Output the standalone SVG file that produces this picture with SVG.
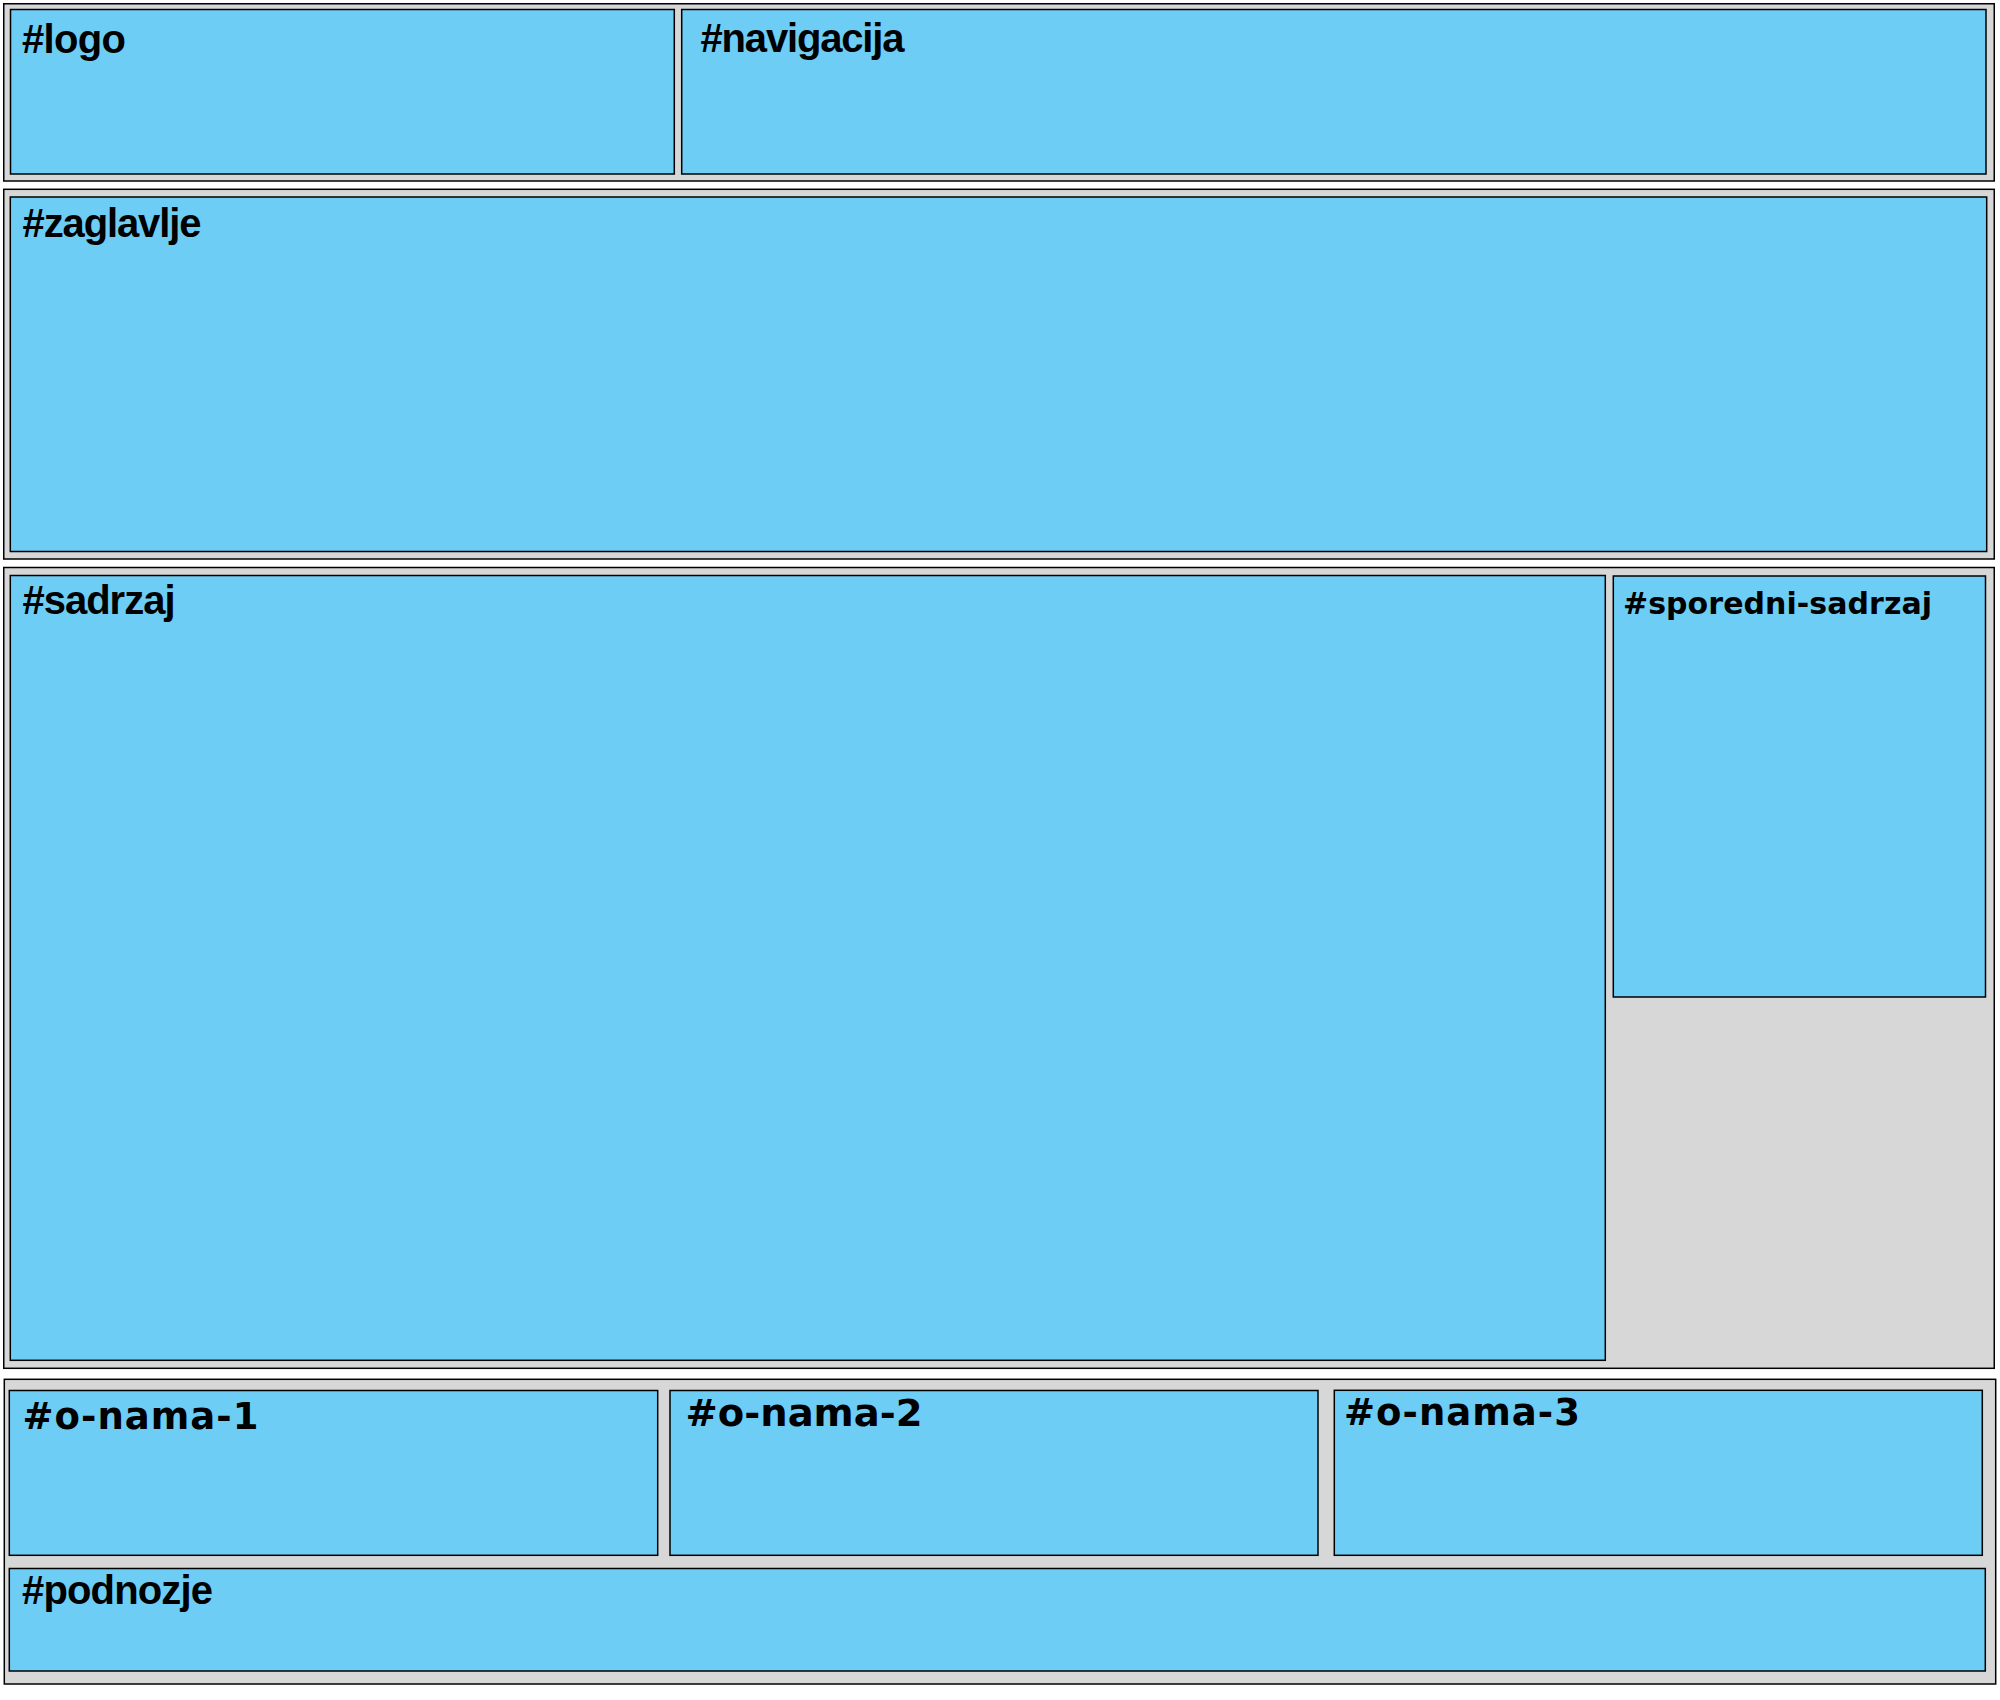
<svg xmlns="http://www.w3.org/2000/svg" width="2000" height="1700" viewBox="0 0 2000 1700">
<style>
.sec{fill:#d7d7d7;stroke:#000;stroke-width:1.5}
.box{fill:#6dcdf5;stroke:#000;stroke-width:1.5}
.a{font-family:"Liberation Sans",Arial,sans-serif;font-weight:bold;font-size:40px;fill:#000}
.d{font-family:"DejaVu Sans",Verdana,sans-serif;font-weight:bold;fill:#000}
.c{font-family:"DejaVu Sans Condensed","DejaVu Sans",sans-serif;font-stretch:condensed;font-weight:bold;fill:#000}
</style>
<rect width="2000" height="1700" fill="#fff"/>
<g id="sekcija-1">
<rect class="sec" x="3.75" y="3.75" width="1990.5" height="177.25"/>
</g>
<g id="logo">
<rect class="box" x="10.5" y="9.5" width="663.8" height="164.5"/>
<text class="a" x="22" y="53" textLength="104" lengthAdjust="spacing">#logo</text>
</g>
<g id="navigacija">
<rect class="box" x="681.7" y="9.5" width="1304.3" height="164.5"/>
<text class="a" x="700.5" y="52" textLength="204" lengthAdjust="spacing">#navigacija</text>
</g>
<g id="sekcija-2">
<rect class="sec" x="3.75" y="189.3" width="1990.5" height="369.7"/>
</g>
<g id="zaglavlje">
<rect class="box" x="10.3" y="197" width="1976.4" height="354.5"/>
<text class="a" x="22.5" y="237" textLength="179" lengthAdjust="spacing">#zaglavlje</text>
</g>
<g id="sekcija-3">
<rect class="sec" x="3.75" y="567.5" width="1990.5" height="800.8"/>
</g>
<g id="sadrzaj">
<rect class="box" x="10.3" y="575.5" width="1595" height="784.8"/>
<text class="a" x="22.5" y="614" textLength="153" lengthAdjust="spacing">#sadrzaj</text>
</g>
<g id="sporedni-sadrzaj">
<rect class="box" x="1613.3" y="576" width="372.2" height="421"/>
<text class="d" x="1623" y="614.3" font-size="30" textLength="309" lengthAdjust="spacing">#sporedni-sadrzaj</text>
</g>
<g id="sekcija-4">
<rect class="sec" x="4.3" y="1379.3" width="1991.4" height="304.7"/>
</g>
<g id="o-nama-1">
<rect class="box" x="9.3" y="1390.5" width="648.4" height="164.8"/>
<text class="d" x="22.5" y="1429.3" font-size="37" textLength="236" lengthAdjust="spacing">#o-nama-1</text>
</g>
<g id="o-nama-2">
<rect class="box" x="670" y="1390.5" width="648" height="164.8"/>
<text class="c" x="685.5" y="1425.5" font-size="38" textLength="237" lengthAdjust="spacingAndGlyphs">#o-nama-2</text>
</g>
<g id="o-nama-3">
<rect class="box" x="1334.3" y="1390.3" width="648" height="165"/>
<text class="d" x="1344" y="1425" font-size="37" textLength="236" lengthAdjust="spacing">#o-nama-3</text>
</g>
<g id="podnozje">
<rect class="box" x="9.3" y="1568.5" width="1976" height="102.5"/>
<text class="a" x="22" y="1604" textLength="191" lengthAdjust="spacing">#podnozje</text>
</g>
</svg>
